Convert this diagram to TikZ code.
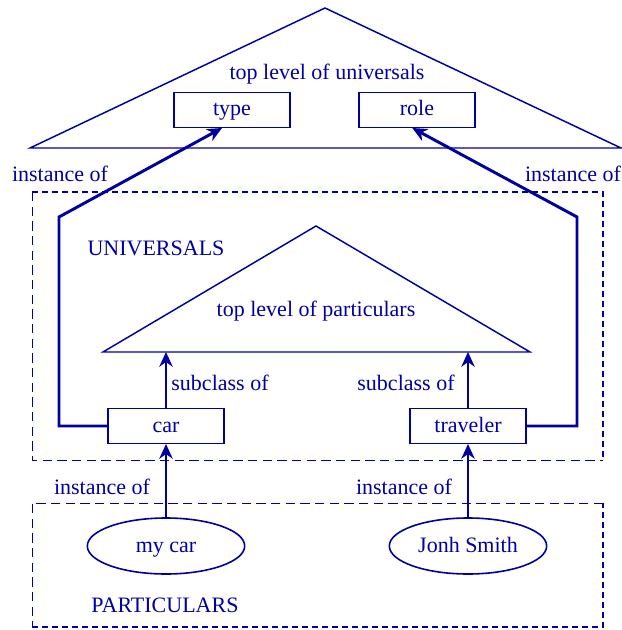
\documentclass[tikz,border=0pt]{standalone}
\usepackage{fontspec}
\setmainfont{Liberation Serif}
\usetikzlibrary{arrows.meta,shapes.geometric}
\definecolor{ontoblue}{RGB}{0,0,160}
\tikzset{
  box/.style={draw=ontoblue, line width=1pt, minimum width=87pt, minimum height=26pt, inner sep=0pt, text=ontoblue, text height=12pt, text depth=3pt},
  blob/.style={ellipse, draw=ontoblue, line width=1.2pt, minimum width=118pt, minimum height=42pt, inner sep=0pt, text=ontoblue, text height=12pt, text depth=3pt},
  link/.style={draw=ontoblue, line width=2.2pt, -{Stealth[length=11pt,width=10pt,inset=3.5pt]}},
  tag/.style={text=ontoblue, inner sep=0pt, text height=12pt, text depth=3pt},
  thinframe/.style={draw=ontoblue, line width=0.7pt, dash pattern=on 7pt off 4pt},
  thickframe/.style={draw=ontoblue, line width=2.2pt, dash pattern=on 4.5pt off 3pt},
  level/.style={draw=ontoblue, line width=1.1pt, line join=miter},
}
\begin{document}
\begin{tikzpicture}[x=0.75pt, y=-0.75pt, font=\fontsize{16.5}{19}\selectfont]
        \useasboundingbox (0,0) rectangle (621,630);
        % universals
        \draw[level] (325,8) -- (621,148) -- (30,148) -- cycle;
        \node[tag] (toplabel) at (327,74) {top level of universals};
        \node[box] (type) at (232,110) {type};
        \node[box] (role) at (417,110) {role};
        % frames
        \draw[thinframe]  (32,192) -- (32,460) -- (603,460);
        \draw[thickframe] (32,192) -- (603,192) -- (603,460);
        \draw[thinframe]  (603,503) -- (32,503) -- (32,627);
        \draw[thickframe] (32,627) -- (603,627) -- (603,503);
        \node[tag] (univ) at (156,250) {UNIVERSALS};
        \node[tag] (part) at (165,606) {PARTICULARS};
        % particulars
        \draw[level] (316,226) -- (530,352) -- (103,352) -- cycle;
        \coordinate (carfoot) at (166,352);
        \coordinate (travfoot) at (468,352);
        \node[tag] (botlabel) at (316,310) {top level of particulars};
        \node[box] (car)      at (166,426) {car};
        \node[box] (traveler) at (468,426) {traveler};
        \node[blob] (mycar) at (166,546) {my car};
        \node[blob] (smith) at (468,546) {Jonh Smith};
        \coordinate (leftbend)  at (59,217);
        \coordinate (rightbend) at (577,217);
        % connectors
        \draw[link] (car) -- (carfoot);
        \draw[link] (traveler) -- (travfoot);
        \draw[link] (mycar) -- (car);
        \draw[link] (smith) -- (traveler);
        \draw[link] (car.west) -| (leftbend) -- ([xshift=-7.5pt]type.south);
        \draw[link] (traveler.east) -| (rightbend) -- ([xshift=-3.5pt]role.south);
        \node[tag] at (60,176)  {instance of};
        \node[tag] at (573,176) {instance of};
        \node[tag] at (220,384) {subclass of};
        \node[tag] at (406,384) {subclass of};
        \node[tag] at (102,488) {instance of};
        \node[tag] at (404,488) {instance of};
      \end{tikzpicture}
\end{document}
